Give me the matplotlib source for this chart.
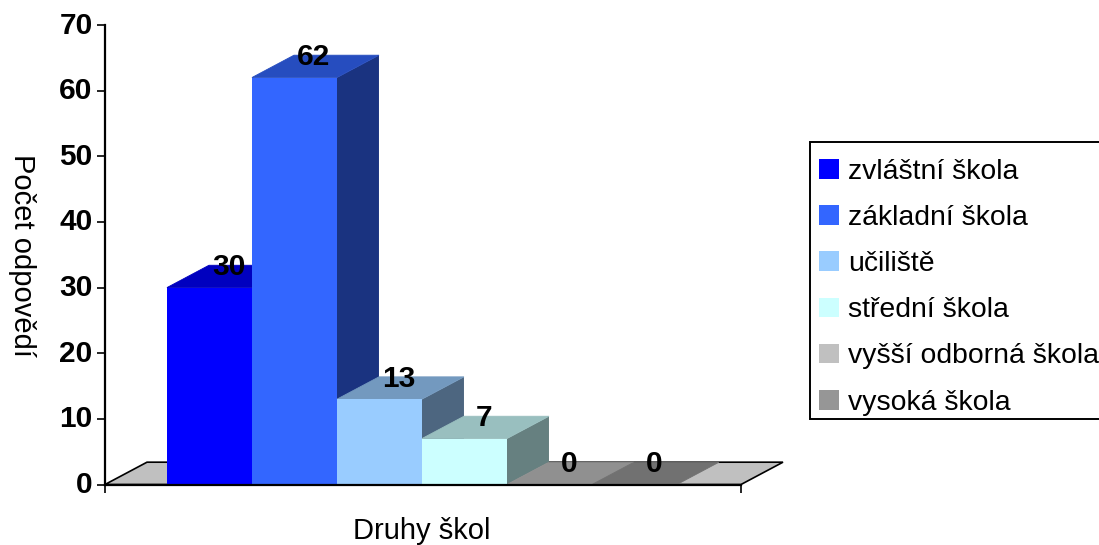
import matplotlib
matplotlib.use("Agg")
import matplotlib.pyplot as plt
from matplotlib.patches import Patch, Polygon, Rectangle
from matplotlib.colors import to_rgb
from matplotlib.transforms import ScaledTranslation

plt.rcParams["font.family"] = ["Liberation Sans", "DejaVu Sans"]

categories = ["zvláštní škola", "základní škola", "učiliště", "střední škola",
              "vyšší odborná škola", "vysoká škola"]
values = [30, 62, 13, 7, 0, 0]
colors = ["#0000ff", "#3366ff", "#99ccff", "#ccffff", "#c0c0c0", "#969696"]
y_ticks = [0, 10, 20, 30, 40, 50, 60, 70]

W, H = 1099, 545
fig = plt.figure(figsize=(W / 100, H / 100), dpi=100)
# Plot frame: x 105-741 px, y 25-484.5 px from the top
ax = fig.add_axes([105 / W, 1 - 484.5 / H, 636 / W, 459.5 / H])
ax.set_xlim(-0.729, 6.753)
ax.set_ylim(0, 70)

# Oblique depth of the pseudo-3D projection, in data units
dx, dy = 0.494, 3.4


def shade(color, factor):
    return tuple(c * factor for c in to_rgb(color))


# Floor of the chart
x0, x1 = ax.get_xlim()
ax.add_patch(Polygon([(x0, 0), (x0 + dx, dy), (x1 + dx, dy), (x1, 0)],
                     closed=True, facecolor="#c0c0c0", edgecolor="#000000",
                     linewidth=1.2, clip_on=False, zorder=1))

# Columns, left to right so each one hides the side of its neighbour
for i, (v, c) in enumerate(zip(values, colors)):
    left, right = i, i + 1
    ax.add_patch(Polygon([(right, 0), (right + dx, dy), (right + dx, v + dy), (right, v)],
                         closed=True, facecolor=shade(c, 0.5), edgecolor="none",
                         clip_on=False, zorder=2 + i))
    ax.add_patch(Polygon([(left, v), (left + dx, v + dy), (right + dx, v + dy), (right, v)],
                         closed=True, facecolor=shade(c, 0.75),
                         edgecolor=shade(c, 0.75), linewidth=0.6,
                         clip_on=False, zorder=2 + i))
    ax.bar(left, v, width=1, align="edge", color=c, linewidth=0, zorder=2 + i)

# Value labels sit at the back edge of each column's top face
label_lift = -0.3
for i, v in enumerate(values):
    ax.text(i + 0.73, v + dy + label_lift, str(v), ha="center", va="center",
            fontsize=21.5, fontweight="bold", color="black", zorder=20, clip_on=False)

for side in ("top", "right"):
    ax.spines[side].set_visible(False)
for side in ("left", "bottom"):
    ax.spines[side].set_linewidth(1.6)
    ax.spines[side].set_zorder(15)

ax.set_yticks(y_ticks)
ax.set_xticks([x0, x1])
ax.set_xticklabels([])
ax.tick_params(axis="y", length=6, width=1.2, pad=3, labelsize=21.5)
ax.tick_params(axis="x", length=6, width=1.2)
# Tick numbers ride slightly above their tick marks
raise_labels = ScaledTranslation(0, 2.5 / 100, fig.dpi_scale_trans)
for label in ax.get_yticklabels():
    label.set_fontweight("bold")
    label.set_transform(label.get_transform() + raise_labels)

fig.text(422 / W, 1 - 531 / H, "Druhy škol", ha="center", va="center", fontsize=21)
fig.text(22 / W, 1 - 256 / H, "Počet odpovědí", ha="center", va="center",
         rotation=270, fontsize=21)

# Legend box runs off the right edge of the figure
fig.add_artist(Rectangle((810 / W, 1 - 419 / H), 320 / W, 277 / H,
                         transform=fig.transFigure, facecolor="white",
                         edgecolor="black", linewidth=1.4, zorder=5))

handles = [Patch(facecolor=c, edgecolor="none") for c in colors]
legend = fig.legend(handles, categories, loc="upper left",
                    bbox_to_anchor=(802 / W, 1 - 142 / H), bbox_transform=fig.transFigure,
                    fontsize=20.4, frameon=False, borderaxespad=0, borderpad=0.6,
                    handlelength=0.7, handleheight=0.7, handletextpad=0.32,
                    labelspacing=0.71)
legend.set_zorder(6)

fig.savefig("out.png", dpi=100)
